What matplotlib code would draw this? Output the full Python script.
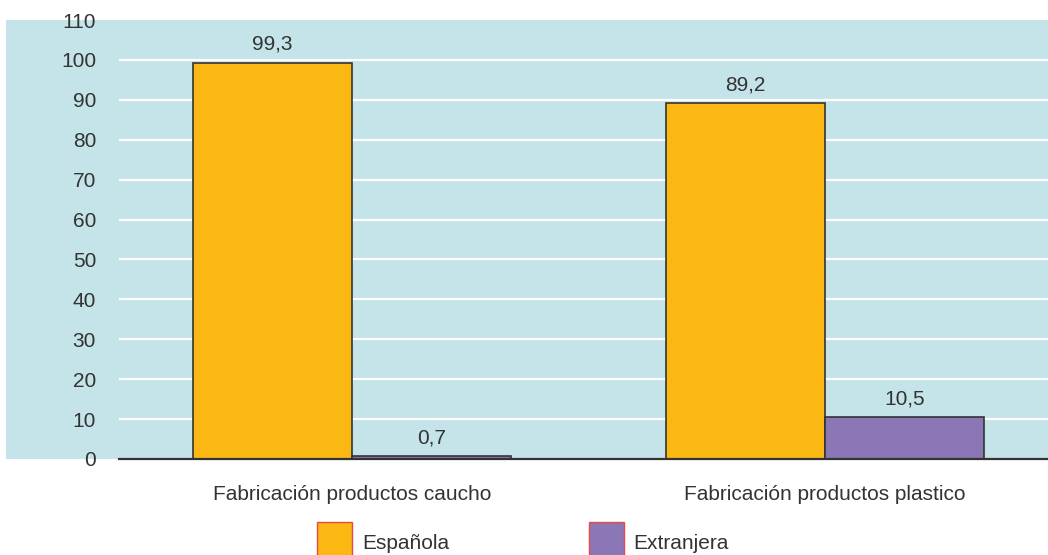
import matplotlib
matplotlib.use("Agg")
import matplotlib.pyplot as plt
from matplotlib.patches import Rectangle, Patch
import numpy as np

categories = ["Fabricación productos caucho", "Fabricación productos plastico"]
series_names = ["Española", "Extranjera"]
espanola = [99.3, 89.2]
extranjera = [0.7, 10.5]
value_labels_esp = ["99,3", "89,2"]
value_labels_ext = ["0,7", "10,5"]
yticks = [0, 10, 20, 30, 40, 50, 60, 70, 80, 90, 100, 110]

plt.rcParams['font.family'] = ['Liberation Sans', 'DejaVu Sans']
W, H = 1048, 555
fig = plt.figure(figsize=(W / 100, H / 100), dpi=100)
bg = "#c5e4e9"
txt = "#333333"
c_esp = "#fbb813"
c_ext = "#8b77b5"

# background panel behind the axes
fig.patches.append(Rectangle((6 / W, 96 / H), 1 - 6 / W, (459 - 20) / H,
                             transform=fig.transFigure, facecolor=bg,
                             edgecolor="none", zorder=-5))

ax = fig.add_axes([119 / W, 96 / H, 1 - 119 / W, (459 - 20) / H])
ax.set_facecolor(bg)
x = np.arange(len(categories))
bw = 0.336
b1 = ax.bar(x - bw / 2, espanola, bw, color=c_esp, edgecolor="#333333", linewidth=1.2, zorder=3)
b2 = ax.bar(x + bw / 2, extranjera, bw, color=c_ext, edgecolor="#333333", linewidth=1.2, zorder=3)
for rect, lab in zip(b1, value_labels_esp):
    ax.text(rect.get_x() + rect.get_width() / 2, rect.get_height() + 2.2, lab,
            ha="center", va="bottom", fontsize=15, color=txt)
for rect, lab in zip(b2, value_labels_ext):
    ax.text(rect.get_x() + rect.get_width() / 2, rect.get_height() + 2.2, lab,
            ha="center", va="bottom", fontsize=15, color=txt)

ax.set_ylim(0, 110)
ax.set_xlim(-0.4926, 1.471)
ax.set_yticks(yticks)
ax.set_yticklabels([str(v) for v in yticks], fontsize=15, color=txt)
ax.set_xticks(x)
ax.set_xticklabels(categories, fontsize=15, color=txt)
ax.tick_params(axis="y", length=0, pad=16.5)
ax.tick_params(axis="x", length=0, pad=18.5)
ax.grid(axis="y", color="white", linewidth=1.6, zorder=1)
ax.get_ygridlines()[-1].set_visible(False)
ax.get_ygridlines()[0].set_visible(False)
ax.set_axisbelow(True)
for s in ["top", "right", "left"]:
    ax.spines[s].set_visible(False)
ax.spines["bottom"].set_color("#333333")
ax.spines["bottom"].set_linewidth(1.6)
ax.spines["bottom"].set_zorder(4)

handles = [Patch(facecolor=c_esp, edgecolor="#e8484a", linewidth=1),
           Patch(facecolor=c_ext, edgecolor="#e8484a", linewidth=1)]
fig.legend(handles, series_names, loc="upper left", bbox_to_anchor=(317 / W, 1 - 522 / H),
           ncol=2, frameon=False, fontsize=15, handlelength=1.68, handleheight=2.7,
           handletextpad=0.48, columnspacing=6.7, labelcolor=txt, borderaxespad=0,
           borderpad=0)

fig.savefig("out.png", dpi=100)
